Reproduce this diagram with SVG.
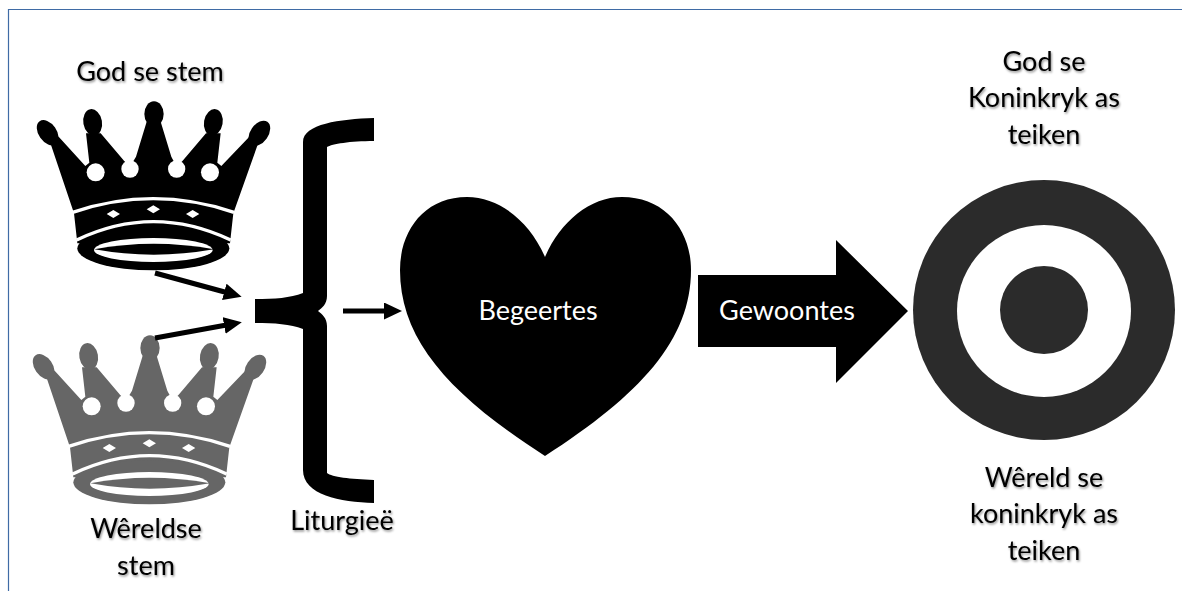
<svg xmlns="http://www.w3.org/2000/svg" xmlns:xlink="http://www.w3.org/1999/xlink" width="1182" height="591" viewBox="0 0 1182 591">
<style>
.t{font-family:Lato,"Open Sans","Liberation Sans",sans-serif;font-size:27px;fill:#000;text-anchor:middle;filter:url(#sh)}
.w{font-family:Lato,"Open Sans","Liberation Sans",sans-serif;font-size:27px;fill:#fff;text-anchor:middle}
.c{stroke:#000;stroke-width:5;fill:none;marker-end:url(#ah)}
</style>
<defs>
<filter id="sh" x="-10%" y="-20%" width="120%" height="150%"><feDropShadow dx="1" dy="1.5" stdDeviation="1" flood-color="#000" flood-opacity=".45"/></filter>
<marker id="ah" markerUnits="userSpaceOnUse" markerWidth="20" markerHeight="20" refX="8" refY="8.5" orient="auto"><path d="M0 0L18 8.5L0 17z" fill="#000"/></marker>
<g id="crown-shape" transform="translate(0 40) scale(.33333)">
<path d="M148 300L176 290L256 378L268 368L258 280H302L372 362L390 380L408 350L440 245H482L514 350L530 380L548 362L618 280H662L652 368L664 378L748 290L778 300L700 520L690 610H232L222 520Z"/>
<ellipse cx="143" cy="278" rx="27" ry="42" transform="rotate(-35 143 278)"/><ellipse cx="278" cy="247" rx="28" ry="40" transform="rotate(-10 278 247)"/><ellipse cx="462" cy="222" rx="29" ry="38"/><ellipse cx="640" cy="247" rx="28" ry="40" transform="rotate(10 640 247)"/><ellipse cx="778" cy="280" rx="27" ry="42" transform="rotate(35 778 280)"/>
<ellipse cx="460" cy="625" rx="228" ry="66"/>
<g fill="#fff"><circle cx="287" cy="397" r="27"/><circle cx="390" cy="387" r="26"/><circle cx="530" cy="387" r="26"/><circle cx="630" cy="397" r="27"/>
<path d="M340 510L360 522L340 534L320 522ZM460 496L480 508L460 520L440 508ZM578 510L598 522L578 534L558 522Z"/>
<ellipse cx="460" cy="630" rx="178" ry="36"/></g>
<path d="M283 628Q460 595 642 628Q460 660 283 628Z"/>
<g fill="none" stroke="#fff" stroke-width="10"><path d="M218 517Q460 435 702 517"/><path d="M230 600Q460 490 692 600"/></g>
</g>
</defs>
<rect width="1182" height="591" fill="#fff"/>
<path d="M8.5 591V9.5H1182" fill="none" stroke="#3f6ba5" stroke-width="1.2"/>
<g id="crown-god"><use xlink:href="#crown-shape" href="#crown-shape"/></g>
<g id="crown-world" fill="#666"><use xlink:href="#crown-shape" href="#crown-shape" transform="translate(-4 234)" fill="#666"/></g>
<g id="brace"><path d="M374 118C340 119 303 124 303 142V293C290 298 275 299 255 299V323C275 323 290 324 303 329V470C303 495 340 502 374 503V480C350 479 332 477 327 473V326C327 318 322 314 318 311C322 308 327 304 327 296V147C332 144 350 141 374 141Z"/></g>
<g id="heart"><path d="M545 257C530 222 500 197 467 197C425 197 400 230 400 270C400 340 450 395 545 456C640 395 691 340 691 270C691 230 665 197 622 197C590 197 560 222 545 257Z"/><text class="w" x="538" y="320">Begeertes</text></g>
<g id="habit-arrow"><path d="M698 275H836V240L908 311L836 383V347H698Z"/><text class="w" x="787" y="320">Gewoontes</text></g>
<g id="target"><ellipse cx="1044" cy="310" rx="131" ry="130" fill="#2b2b2b"/><ellipse cx="1044" cy="311" rx="87" ry="86" fill="#fff"/><ellipse cx="1044" cy="310" rx="44" ry="44" fill="#2b2b2b"/></g>
<g id="connectors"><line class="c" x1="155" y1="273" x2="232" y2="294"/><line class="c" x1="155" y1="338" x2="232" y2="324"/><line class="c" x1="343" y1="311" x2="392" y2="311"/></g>
<g id="labels">
<text class="t" x="150" y="81">God se stem</text>
<text class="t" x="146" y="538">Wêreldse</text><text class="t" x="146" y="575">stem</text>
<text class="t" x="342" y="530">Liturgieë</text>
<text class="t" x="1044" y="71">God se</text><text class="t" x="1044" y="107">Koninkryk as</text><text class="t" x="1044" y="144">teiken</text>
<text class="t" x="1044" y="487">Wêreld se</text><text class="t" x="1044" y="523">koninkryk as</text><text class="t" x="1044" y="560">teiken</text>
</g>
</svg>
